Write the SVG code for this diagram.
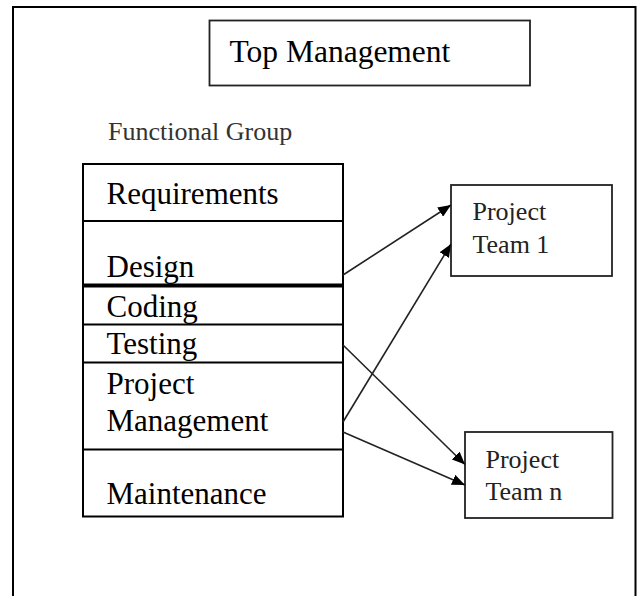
<svg xmlns="http://www.w3.org/2000/svg" width="641" height="596" viewBox="0 0 641 596">
  <style>
    .t { font-family: "Liberation Serif", "Times New Roman", serif; fill: #000; }
    .frame { fill: none; stroke: #000; stroke-width: 2; }
    .box { fill: #fff; stroke: #000; stroke-width: 2; }
    .small { fill: #fff; stroke: #222; stroke-width: 1.8; }
    .div { stroke: #000; stroke-width: 2; }
    .conn { stroke: #222; stroke-width: 1.6; fill: none; marker-end: url(#ah); }
  </style>
  <defs>
    <marker id="ah" markerUnits="userSpaceOnUse" markerWidth="13" markerHeight="11" refX="13" refY="5.5" orient="auto">
      <path d="M0,0 L13,5.5 L0,11 z" fill="#000"/>
    </marker>
  </defs>
  <rect width="641" height="596" fill="#fff"/>
  <g id="frame">
    <path class="frame" d="M13,597 L13,7 L635.5,7 L635.5,597"/>
  </g>
  <g id="top-management">
    <rect class="small" x="209.5" y="20.5" width="320.5" height="65"/>
    <text class="t" x="229.5" y="62" font-size="31.5" fill="#222">Top Management</text>
  </g>
  <g id="functional-group-label">
    <text class="t" x="108" y="140" font-size="26" style="fill:#333">Functional Group</text>
  </g>
  <g id="functional-group">
    <rect class="box" x="83" y="164" width="260" height="352.5"/>
    <line class="div" x1="83" y1="221" x2="343" y2="221"/>
    <line x1="83" y1="285.5" x2="343" y2="285.5" stroke="#000" stroke-width="4"/>
    <line class="div" x1="83" y1="324.5" x2="343" y2="324.5"/>
    <line class="div" x1="83" y1="362.5" x2="343" y2="362.5"/>
    <line class="div" x1="83" y1="449.5" x2="343" y2="449.5"/>
    <text class="t" x="106.5" y="203.5" font-size="31">Requirements</text>
    <text class="t" x="106.5" y="277" font-size="31">Design</text>
    <text class="t" x="106.5" y="317" font-size="31">Coding</text>
    <text class="t" x="106.5" y="353.5" font-size="31">Testing</text>
    <text class="t" x="106.5" y="393.5" font-size="31">Project</text>
    <text class="t" x="106.5" y="431" font-size="31">Management</text>
    <text class="t" x="106.5" y="503.5" font-size="31">Maintenance</text>
  </g>
  <g id="project-team-1">
    <rect class="small" x="451" y="185" width="161" height="91"/>
    <text class="t" x="472.5" y="220" font-size="26" style="fill:#222">Project</text>
    <text class="t" x="472.5" y="253" font-size="26" style="fill:#222">Team 1</text>
  </g>
  <g id="project-team-n">
    <rect class="small" x="465" y="432" width="147.5" height="86"/>
    <text class="t" x="485.5" y="467.5" font-size="26" style="fill:#222">Project</text>
    <text class="t" x="485.5" y="499.5" font-size="26" style="fill:#222">Team n</text>
  </g>
  <g id="connectors">
    <line class="conn" x1="343" y1="275" x2="451" y2="205"/>
    <line class="conn" x1="343" y1="422" x2="451" y2="244"/>
    <line class="conn" x1="343" y1="345" x2="465" y2="464.5"/>
    <line class="conn" x1="343" y1="432" x2="465" y2="485"/>
  </g>
</svg>
